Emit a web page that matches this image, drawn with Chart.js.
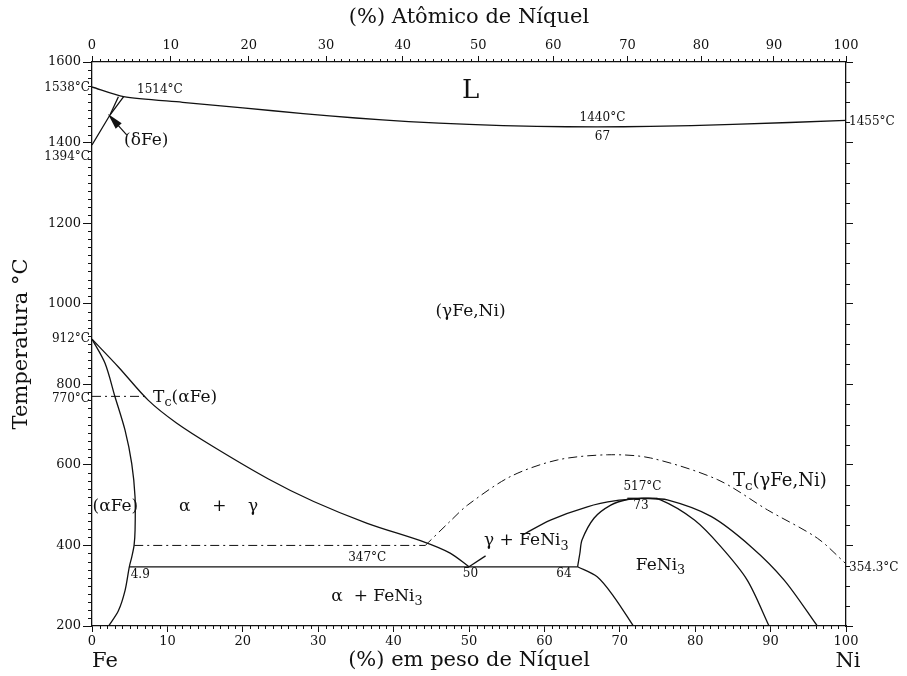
<!DOCTYPE html>
<html>
<head>
<meta charset="utf-8">
<script src="https://cdn.jsdelivr.net/npm/chart.js@4.4.1/dist/chart.umd.min.js"></script>
<style>
html,body{margin:0;padding:0;background:#fff;}
canvas{display:block;}
</style>
</head>
<body>
<canvas id="c" width="907" height="676"></canvas>
<script>
// ---------- data (wt% Ni, °C) ----------
const wtTickValues = [0,10,20,30,40,50,60,70,80,90,100];
const atTickLabels = [0,10,20,30,40,50,60,70,80,90,100];
const atTickPositions = [0,10.46,20.8,31.05,41.2,51.24,61.18,71.03,80.78,90.44,100];
const tempTicks = [200,400,600,800,1000,1200,1400,1600];

const liquidus = [[0,1538],[4.2,1514],[12,1500],[20,1486],[28,1472],[35,1461],[42,1452],[50,1445],[59,1440],[67,1439],[74,1440],[85,1445],[100,1455]];
const deltaA = [[0,1394],[2.4,1469],[4.2,1514]];
const deltaB = [[2.4,1469],[3.5,1514]];
const deltaPointer = [[4.6,1419],[2.3,1467]];
const alphaSolvus = [[0,912],[1.73,852],[3.05,769],[4.38,686],[5.27,603],[5.71,520],[5.71,437],[5.58,400],[5.27,371],[4.95,347],[4.38,288],[3.5,238],[2.2,200]];
const gammaSolvus = [[0,912],[3.5,843],[7.48,760],[11.2,704],[16.1,645],[23.4,565],[29.4,509],[36.5,455],[44,409],[47.5,381],[50,347]];
const tcAlpha = [[0,770],[7.4,770]];
const tcAlphaField = [[5.6,400],[44.2,400]];
const tcGamma = [[44.2,400],[47.5,460],[49.8,500],[55.5,571],[61.7,612],[68.4,625],[74.1,617],[83,563],[89.6,488],[96.2,418],[100,354.3]];
const eutectoid = [[4.95,347],[64.4,347]];
const gammaFeNi3LowA = [[50,347],[52.2,374]];
const gammaFeNi3LowB = [[57.1,426],[60.8,463],[65.7,496],[69.5,511],[73,517]];
const feNi3Left = [[64.4,347],[64.7,380],[65.0,414],[66.6,468],[68.8,500],[71,514],[73,517]];
const feNi3Lower = [[64.4,347],[67,322],[69.2,273],[71.8,200]];
const feNi3Right = [[73,517],[75.4,513],[79.9,463],[83.4,397],[86.9,314],[89.8,200]];
const gammaRight = [[73,517],[76.3,513],[82.1,472],[87.4,397],[91.8,314],[96.2,200]];
const congruentFlat = [[71,517],[75,517]];

// ---------- labels ----------
const SERIF = '"DejaVu Serif", "Liberation Serif", serif';
const NUMF = '"DejaVu Serif", "Liberation Serif", serif';
const insideLabels = [
  {parts:[['L']], x:50.2, y:1527, size:26, font:SERIF},
  {parts:[['1514°C']], x:9.0, y:1531, size:12, font:NUMF},
  {parts:[['(δFe)']], x:7.2, y:1405, size:17, font:SERIF},
  {parts:[['1440°C']], x:67.7, y:1462, size:12, font:NUMF},
  {parts:[['67']], x:67.7, y:1415, size:12, font:NUMF},
  {parts:[['(γFe,Ni)']], x:50.2, y:980, size:17, font:SERIF},
  {parts:[['T'],['c','sub'],['(αFe)']], x:8.1, y:767, size:17, font:SERIF, align:'left'},
  {parts:[['(αFe)']], x:3.1, y:496, size:17, font:SERIF},
  {parts:[['α    +    γ']], x:16.8, y:496, size:17, font:SERIF},
  {parts:[['347°C']], x:36.5, y:369, size:12, font:NUMF},
  {parts:[['4.9']], x:6.4, y:327, size:12, font:NUMF},
  {parts:[['α  + FeNi'],['3','sub']], x:37.8, y:274, size:17, font:SERIF},
  {parts:[['50']], x:50.2, y:329, size:12, font:NUMF},
  {parts:[['γ + FeNi'],['3','sub']], x:57.6, y:411, size:17, font:SERIF},
  {parts:[['64']], x:62.6, y:329, size:12, font:NUMF},
  {parts:[['FeNi'],['3','sub']], x:75.4, y:351, size:17, font:SERIF},
  {parts:[['517°C']], x:73.0, y:545, size:12, font:NUMF},
  {parts:[['73']], x:72.8, y:497, size:12, font:NUMF},
  {parts:[['T'],['c','sub'],['(γ'],['Fe,Ni)']], x:85.0, y:560, size:18, font:SERIF, align:'left'}
];
const leftEdgeLabels = [['1538°C',1536],['1394°C',1364],['912°C',912],['770°C',765]];
const rightEdgeLabels = [['1455°C',1452],['354.3°C',345]];
const cornerLabels = [['Fe',0,'left'],['Ni',100,'center']];

function atToWt(a){ const ni=a*58.69, fe=(100-a)*55.85; return 100*ni/(ni+fe); }

function drawRich(ctx, parts, x, y, size, family, align){
  const pieces = parts.map(([t,k]) => {
    const s = k==='sub' ? size*0.75 : size;
    ctx.font = s + 'px ' + family;
    return {t, s, sub:k==='sub', w:ctx.measureText(t).width};
  });
  const total = pieces.reduce((a,p)=>a+p.w,0);
  let cx = align==='left' ? x : align==='right' ? x-total : x-total/2;
  ctx.textBaseline = 'middle';
  ctx.textAlign = 'left';
  for (const p of pieces){
    ctx.font = p.s + 'px ' + family;
    ctx.fillText(p.t, cx, p.sub ? y + size*0.32 : y);
    cx += p.w;
  }
}

const annotationPlugin = {
  id:'phaseAnnotations',
  afterDatasetsDraw(chart){
    const {ctx, scales:{x, y}, chartArea:ca} = chart;
    ctx.save();
    ctx.fillStyle = '#111';
    ctx.strokeStyle = '#111';
    const p0 = [x.getPixelForValue(deltaPointer[0][0]), y.getPixelForValue(deltaPointer[0][1])];
    const p1 = [x.getPixelForValue(deltaPointer[1][0]), y.getPixelForValue(deltaPointer[1][1])];
    ctx.lineWidth = 1.2;
    ctx.beginPath(); ctx.moveTo(p0[0],p0[1]); ctx.lineTo(p1[0],p1[1]); ctx.stroke();
    const ang = Math.atan2(p1[1]-p0[1], p1[0]-p0[0]);
    const L = 14, W = 4;
    const bx = p1[0]-L*Math.cos(ang), by = p1[1]-L*Math.sin(ang);
    ctx.beginPath();
    ctx.moveTo(p1[0]+2*Math.cos(ang), p1[1]+2*Math.sin(ang));
    ctx.lineTo(bx - W*Math.sin(ang), by + W*Math.cos(ang));
    ctx.lineTo(bx + W*Math.sin(ang), by - W*Math.cos(ang));
    ctx.closePath(); ctx.fill();
    for (const l of insideLabels){
      drawRich(ctx, l.parts, x.getPixelForValue(l.x), y.getPixelForValue(l.y), l.size, l.font, l.align||'center');
    }
    for (const [t,v] of leftEdgeLabels){
      drawRich(ctx, [[t]], ca.left-2, y.getPixelForValue(v), 12, NUMF, 'right');
    }
    for (const [t,v] of rightEdgeLabels){
      drawRich(ctx, [[t]], ca.right+3, y.getPixelForValue(v), 12, NUMF, 'left');
    }
    for (const [t,v,al] of cornerLabels){
      drawRich(ctx, [[t]], x.getPixelForValue(v) + (al==='center'?2:0), 662, 21, SERIF, al);
    }
    ctx.restore();
  },
  afterDraw(chart){
    const {ctx, scales:{x, y}, chartArea:ca} = chart;
    ctx.save();
    ctx.strokeStyle = '#111';
    ctx.lineWidth = 1;
    ctx.beginPath();
    for (let v=1; v<100; v++){
      if (v%10===0) continue;
      const px = Math.round(x.getPixelForValue(v))+0.5;
      ctx.moveTo(px, ca.bottom); ctx.lineTo(px, ca.bottom+3);
      const pt = Math.round(x.getPixelForValue(atToWt(v)))+0.5;
      ctx.moveTo(pt, ca.top); ctx.lineTo(pt, ca.top-3);
    }
    for (let t=220; t<1600; t+=20){
      if (t%200===0) continue;
      const py = Math.round(y.getPixelForValue(t))+0.5;
      ctx.moveTo(ca.left, py); ctx.lineTo(ca.left-4, py);
    }
    for (let t=250; t<1600; t+=50){
      if (t%200===0) continue;
      const py = Math.round(y.getPixelForValue(t))+0.5;
      ctx.moveTo(ca.right, py); ctx.lineTo(ca.right+4, py);
    }
    ctx.stroke();
    ctx.restore();
  }
};

function line(data, opts){
  return Object.assign({
    data: data.map(([a,b]) => ({x:a, y:b})),
    showLine:true, borderColor:'#111', borderWidth:1.3,
    pointRadius:0, pointHoverRadius:0, tension:0.3, fill:false
  }, opts||{});
}
const dashDot = [9,4,2,4];

const tickFont = {family:'"DejaVu Serif", serif', size:13};
const titleFont = {family:SERIF, size:21};
const plain = v => String(v);

new Chart(document.getElementById('c'), {
  type:'scatter',
  data:{ datasets:[
    line(liquidus, {tension:0.25}),
    line(deltaA, {tension:0}),
    line(deltaB, {tension:0}),
    line(alphaSolvus),
    line(gammaSolvus),
    line(tcAlpha, {tension:0, borderDash:dashDot, borderWidth:1}),
    line(tcAlphaField, {tension:0, borderDash:dashDot, borderWidth:1}),
    line(tcGamma, {borderDash:dashDot, borderWidth:1}),
    line(eutectoid, {tension:0}),
    line(gammaFeNi3LowA, {tension:0}),
    line(gammaFeNi3LowB),
    line(feNi3Left),
    line(feNi3Lower),
    line(feNi3Right),
    line(gammaRight),
    line(congruentFlat, {tension:0})
  ]},
  options:{
    responsive:false, animation:false, devicePixelRatio:1,
    layout:{padding:0},
    plugins:{legend:{display:false}, tooltip:{enabled:false}},
    events:[],
    scales:{
      x:{
        type:'linear', position:'bottom', min:0, max:100,
        afterBuildTicks: ax => { ax.ticks = wtTickValues.map(v=>({value:v})); },
        ticks:{font:tickFont, color:'#111', padding:2, autoSkip:false, maxRotation:0, callback:plain},
        grid:{drawOnChartArea:false, drawTicks:true, tickLength:6, color:'#111', tickWidth:1},
        border:{display:true, color:'#111', width:1.3},
        title:{display:true, text:'(%) em peso de Níquel', font:titleFont, color:'#111', padding:{top:0,bottom:3}},
        afterFit: s => { s.height = 50; }
      },
      x2:{
        type:'linear', position:'top', min:0, max:100,
        afterBuildTicks: ax => { ax.ticks = atTickPositions.map(v=>({value:v})); },
        ticks:{font:tickFont, color:'#111', padding:3, autoSkip:false, maxRotation:0,
          callback:(v,i)=> String(atTickLabels[i])},
        grid:{drawOnChartArea:false, drawTicks:true, tickLength:6, color:'#111'},
        border:{display:true, color:'#111', width:1.3},
        title:{display:true, text:'(%) Atômico de Níquel', font:titleFont, color:'#111', padding:{top:5,bottom:0}},
        afterFit: s => { s.height = 62; }
      },
      y:{
        type:'linear', position:'left', min:200, max:1600,
        afterBuildTicks: ax => { ax.ticks = tempTicks.map(v=>({value:v})); },
        ticks:{font:tickFont, color:'#111', padding:2, autoSkip:false, callback:plain},
        grid:{drawOnChartArea:false, drawTicks:true, tickLength:9, color:'#111'},
        border:{display:true, color:'#111', width:1.3},
        title:{display:true, text:'Temperatura °C', font:titleFont, color:'#111', padding:{top:9,bottom:0}},
        afterFit: s => { s.width = 92; }
      },
      y2:{
        type:'linear', position:'right', min:200, max:1600,
        afterBuildTicks: ax => { ax.ticks = tempTicks.map(v=>({value:v})); },
        ticks:{display:false},
        grid:{drawOnChartArea:false, drawTicks:true, tickLength:7, color:'#111'},
        border:{display:true, color:'#111', width:1.3},
        afterFit: s => { s.width = 61; }
      }
    }
  },
  plugins:[annotationPlugin]
});
</script>
</body>
</html>
